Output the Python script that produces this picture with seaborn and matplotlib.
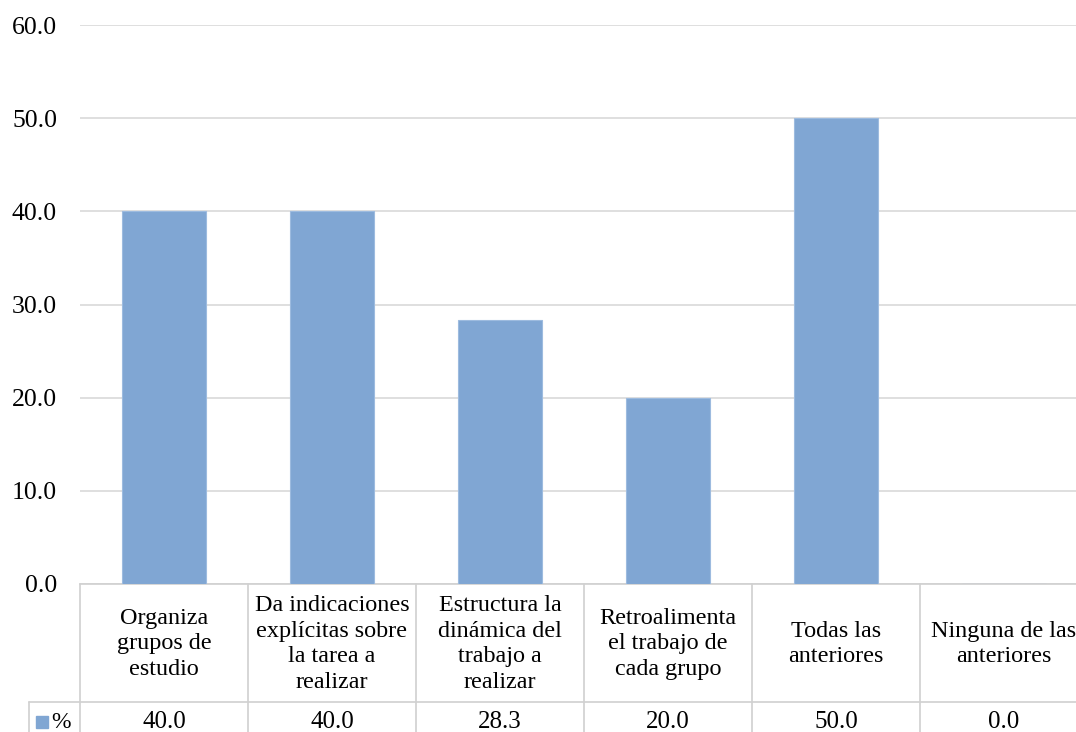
import matplotlib
matplotlib.use("Agg")
import matplotlib.pyplot as plt
import seaborn as sns
import pandas as pd

categories = [
    "Organiza\ngrupos de\nestudio",
    "Da indicaciones\nexplícitas sobre\nla tarea a\nrealizar",
    "Estructura la\ndinámica del\ntrabajo a\nrealizar",
    "Retroalimenta\nel trabajo de\ncada grupo",
    "Todas las\nanteriores",
    "Ninguna de las\nanteriores",
]
values = [40.0, 40.0, 28.3, 20.0, 50.0, 0.0]
series_name = "%"
yticks = [0, 10, 20, 30, 40, 50, 60]

sns.set_theme(style="white")
plt.rcParams["font.family"] = ["Liberation Serif", "DejaVu Serif"]

W, H = 1076, 732
fig = plt.figure(figsize=(W / 100, H / 100), dpi=100)
left_px, right_px, top_px, bottom_px = 80, 1088, 25, 584
ax = fig.add_axes([left_px / W, 1 - bottom_px / H,
                   (right_px - left_px) / W, (bottom_px - top_px) / H])

df = pd.DataFrame({"cat": categories, "val": values})
bar_color = "#80A6D3"
sns.barplot(data=df, x="cat", y="val", ax=ax, color=bar_color, width=0.5,
            saturation=1, edgecolor="#9DBBDF", linewidth=0.8, zorder=3)

ax.set_xlim(-0.5, len(categories) - 0.5)
ax.set_ylim(0, 60)
ax.set_yticks(yticks)
ax.set_yticklabels([f"{v:.1f}" for v in yticks], fontsize=18.5, color="#000000")
ax.tick_params(axis="y", length=0, pad=16.5)
ax.set_xticks([])
ax.set_xlabel("")
ax.set_ylabel("")
ax.grid(axis="y", color="#D9D9D9", linewidth=1.2, zorder=0)
ax.set_axisbelow(True)
for s in ["left", "right", "top"]:
    ax.spines[s].set_visible(False)
ax.spines["bottom"].set_color("#D0D0D0")
ax.spines["bottom"].set_linewidth(1.2)

# Data table below the axes (x in data coords, y in axes fraction)
trans = ax.get_xaxis_transform()
ax_h = bottom_px - top_px
def yfrac(px):
    return -(px - bottom_px) / ax_h

line_kw = dict(color="#D0D0D0", linewidth=1.2, transform=trans, clip_on=False)
y_top = yfrac(584)
y_mid = yfrac(702)
y_bot = yfrac(742)
n = len(categories)
for i in range(n + 1):
    x = i - 0.5
    ax.plot([x, x], [y_top, y_bot], **line_kw)
legend_left = -0.5 - (80 - 29) / 168.0
ax.plot([legend_left, n - 0.5], [y_mid, y_mid], **line_kw)
ax.plot([legend_left, n - 0.5], [y_bot, y_bot], **line_kw)
ax.plot([legend_left, legend_left], [y_mid, y_bot], **line_kw)

y_head_c = yfrac(644)
y_val_c = yfrac(722)
for i, (c, v) in enumerate(zip(categories, values)):
    ax.text(i, y_head_c, c, transform=trans, ha="center", va="center",
            fontsize=17.4, linespacing=1.3, color="#000000", clip_on=False)
    ax.text(i, y_val_c, f"{v:.1f}", transform=trans, ha="center", va="center",
            fontsize=18, color="#000000", clip_on=False)

fig.patches.append(plt.Rectangle((36 / W, 1 - 728 / H), 12 / W, 12 / H,
                                 transform=fig.transFigure, color=bar_color))
fig.text(51 / W, 1 - 722 / H, series_name, ha="left", va="center",
         fontsize=17, color="#000000")

fig.savefig("out.png", dpi=100, facecolor="white")
